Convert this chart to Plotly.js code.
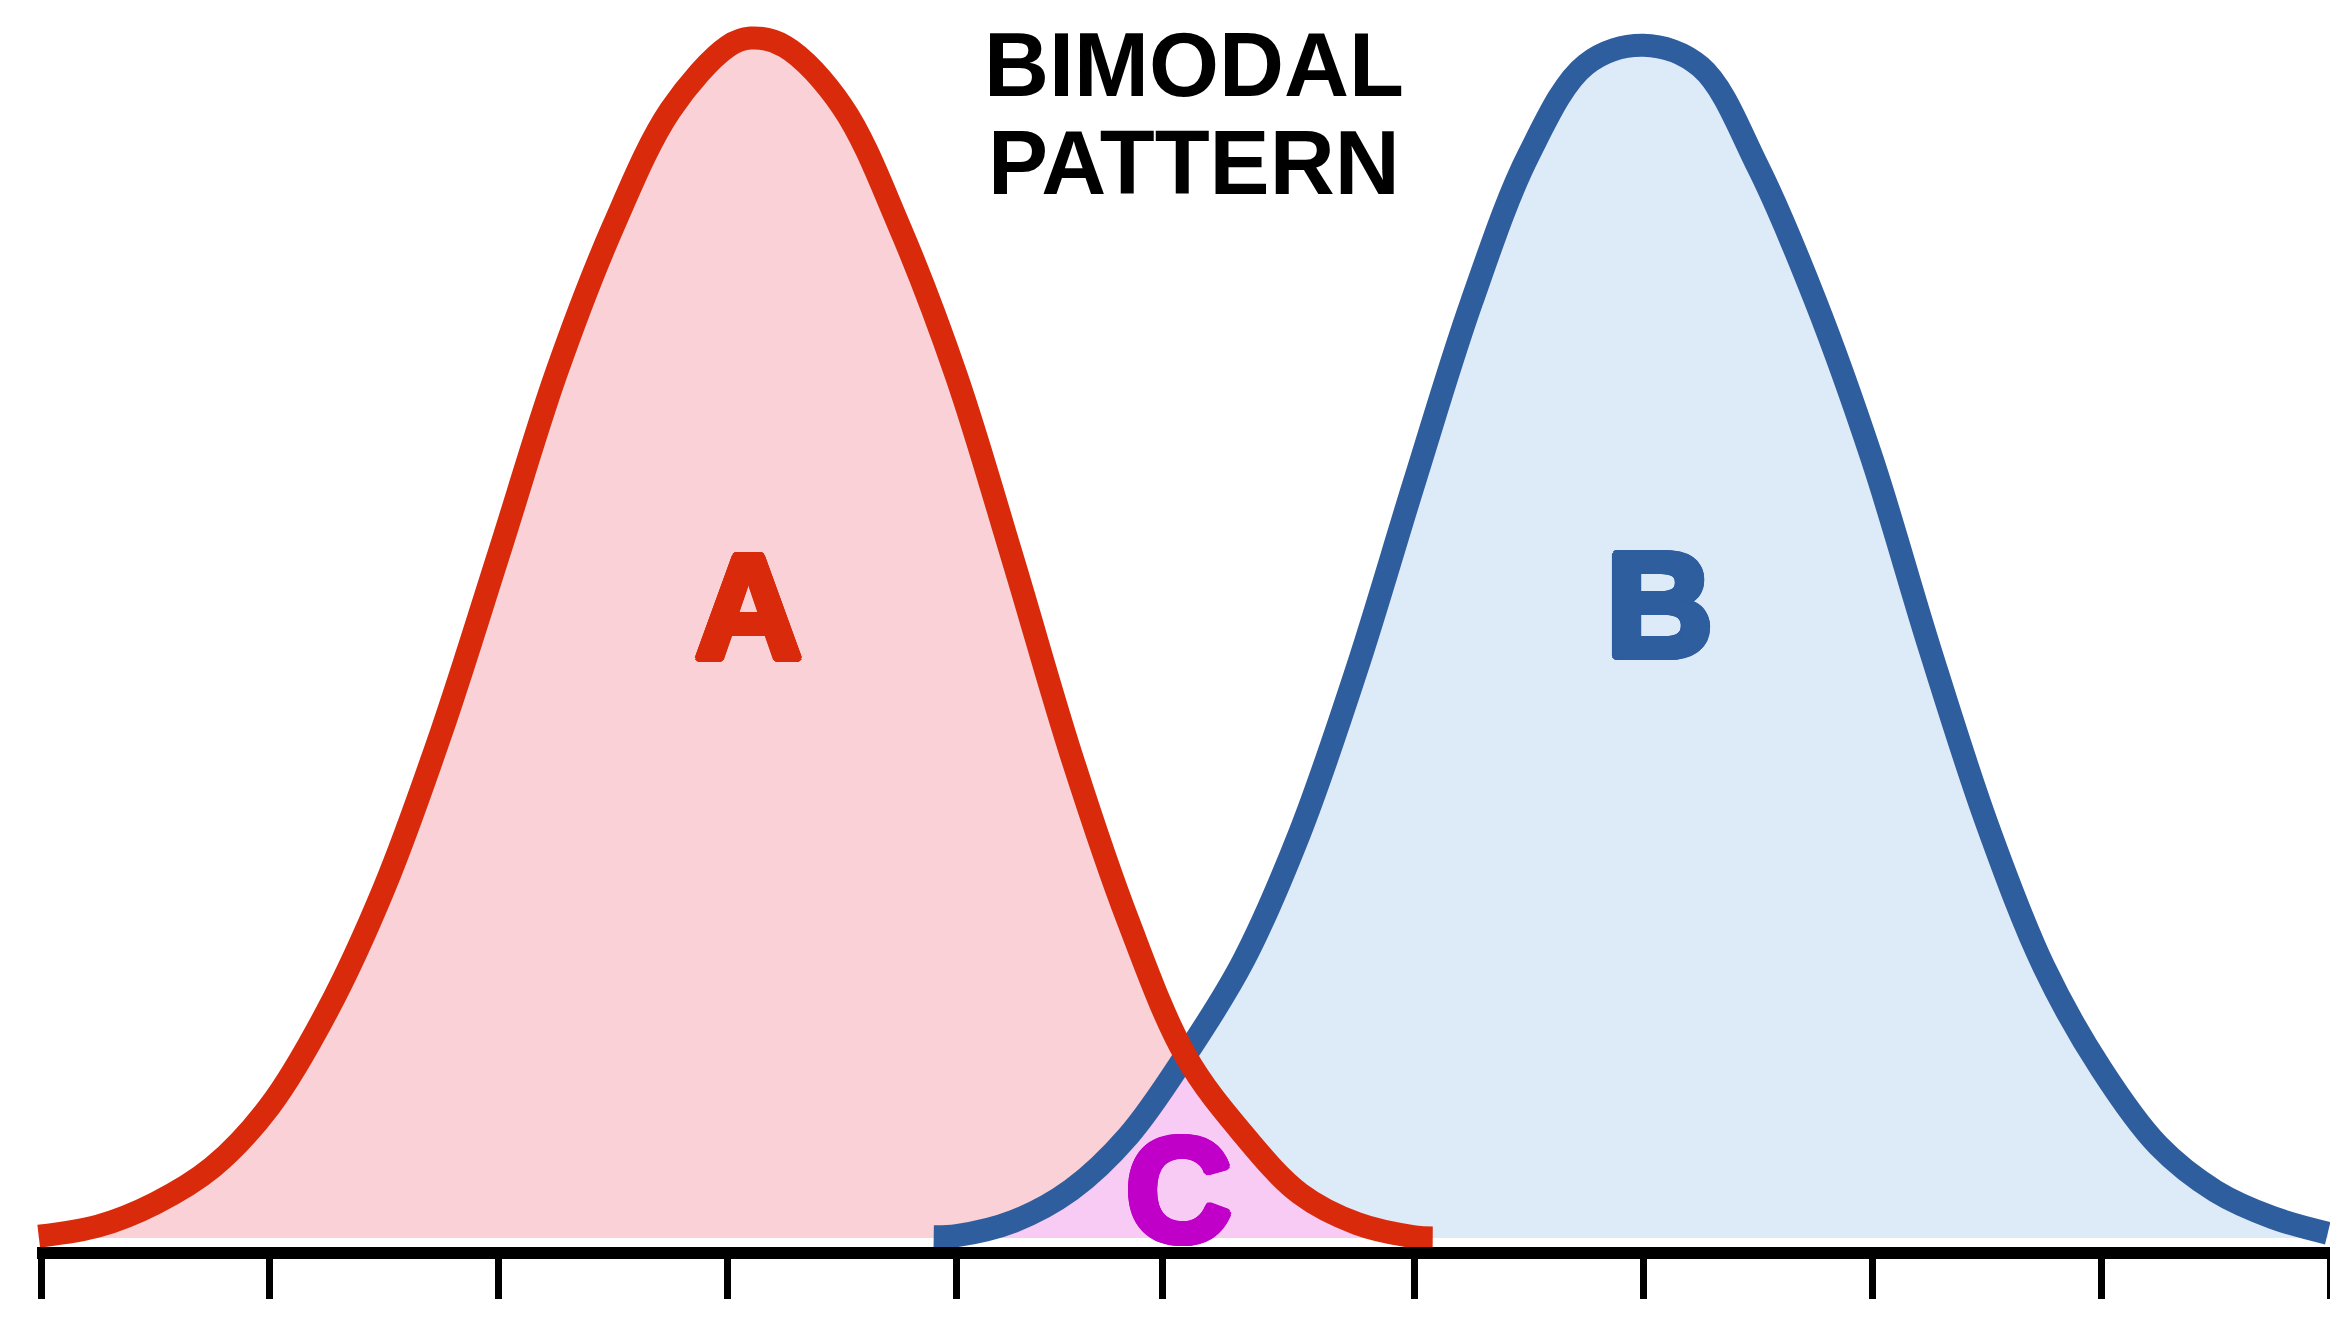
<!DOCTYPE html>
<html>
<head>
<meta charset="utf-8">
<script src="https://cdn.plot.ly/plotly-3.0.1.min.js"></script>
<style>html,body{margin:0;padding:0;background:#fff;}#chart{width:2330px;height:1325px;}</style>
</head>
<body>
<div id="chart"></div>
<script>
// Distribution A (red) — x in tick units, y as relative height (peak = 100)
const redX = [-0.01, 0.25, 0.5, 0.75, 1.0, 1.25, 1.5, 1.75, 2.0, 2.25, 2.5, 2.75, 3.0, 3.1, 3.25, 3.5, 3.75, 4.0, 4.25, 4.5, 4.75, 5.0, 5.25, 5.5, 5.75, 6.0, 6.08];
const redY = [0.15, 1.0, 2.9, 5.9, 11.0, 18.9, 29.2, 42.2, 57.0, 72.0, 84.3, 94.0, 99.3, 100, 99.3, 94.3, 84.3, 71.8, 56.3, 40.3, 26.4, 15.2, 8.7, 3.7, 1.2, 0.1, 0];

// Distribution B (blue)
const blueX = [3.9, 4.0, 4.25, 4.5, 4.75, 5.0, 5.25, 5.5, 5.75, 6.0, 6.25, 6.5, 6.75, 7.0, 7.25, 7.5, 7.75, 8.0, 8.25, 8.5, 8.75, 9.0, 9.25, 9.5, 9.75, 9.99];
const blueY = [0.1, 0.2, 1.4, 4.0, 8.5, 15.2, 23.0, 33.8, 47.5, 63.0, 78.0, 90.3, 97.8, 99.4, 97.6, 89.3, 78.2, 64.9, 49.2, 34.6, 22.6, 14.1, 7.7, 3.9, 1.7, 0.4];

// Crossing point of the two curves (x in tick units)
const crossX = 5.0;

// Axis tick positions (no labels)
const tickVals = [0, 1, 2, 3, 4, 4.9, 6, 7, 8, 9, 10];

// Text labels
const titleLines = ["BIMODAL", "PATTERN"];
const labelA = "A", labelB = "B", labelC = "C";

// Overlap region C built from the two series
const ovX = [], ovY = [];
blueX.forEach((x, i) => { if (x <= crossX) { ovX.push(x); ovY.push(blueY[i]); } });
redX.forEach((x, i) => { if (x > crossX) { ovX.push(x); ovY.push(redY[i]); } });

const RED = "#d92b0b", BLUE = "#2f5e9f", MAG = "#c000c8";
const FONT = "Liberation Sans, Arial, Helvetica, sans-serif";
const LW = 23;

function heavy(c, d) {
  const o = [];
  for (let a = 0; a < 16; a++) {
    const t = a * Math.PI / 8;
    o.push((d * Math.cos(t)).toFixed(1) + "px " + (d * Math.sin(t)).toFixed(1) + "px 0 " + c);
  }
  return o.join(", ");
}

const traces = [
  {x: redX, y: redY, type: "scatter", mode: "lines", fill: "tozeroy", fillcolor: "#f9d1d6",
   line: {width: 0, shape: "spline", color: "rgba(0,0,0,0)"}, hoverinfo: "skip"},
  {x: blueX, y: blueY, type: "scatter", mode: "lines", fill: "tozeroy", fillcolor: "#ddeaf8",
   line: {width: 0, shape: "spline", color: "rgba(0,0,0,0)"}, hoverinfo: "skip"},
  {x: ovX, y: ovY, type: "scatter", mode: "lines", fill: "tozeroy", fillcolor: "#f7cbf3",
   line: {width: 0, shape: "spline", color: "rgba(0,0,0,0)"}, hoverinfo: "skip"},
  {x: blueX, y: blueY, type: "scatter", mode: "lines", line: {width: LW, shape: "spline", color: BLUE}},
  {x: redX, y: redY, type: "scatter", mode: "lines", line: {width: LW, shape: "spline", color: RED}}
];

const layout = {
  width: 2330, height: 1325,
  margin: {l: 37, r: 0, t: 0, b: 78, pad: 0},
  paper_bgcolor: "#ffffff", plot_bgcolor: "#ffffff",
  showlegend: false,
  xaxis: {
    range: [-0.0175, 10.0], showgrid: false, zeroline: false,
    showline: true, linecolor: "#000000", linewidth: 12,
    ticks: "outside", tickvals: tickVals, ticklen: 40, tickwidth: 7, tickcolor: "#000000",
    showticklabels: false, fixedrange: true
  },
  yaxis: {range: [-0.75, 103.17], visible: false, fixedrange: true},
  annotations: [
    {text: titleLines[0], xref: "paper", yref: "paper", x: 0.5045, y: 0.9479, xanchor: "center", yanchor: "middle",
     showarrow: false, font: {family: FONT, size: 90, color: "#000000", weight: "bold"}},
    {text: titleLines[1], xref: "paper", yref: "paper", x: 0.5045, y: 0.8689, xanchor: "center", yanchor: "middle",
     showarrow: false, font: {family: FONT, size: 90, color: "#000000", weight: "bold"}},
    {text: labelA, xref: "x", yref: "y", x: 3.093, y: 52.6, xanchor: "center", yanchor: "middle",
     showarrow: false, font: {family: FONT, size: 148, color: RED, weight: "bold", shadow: heavy(RED, 4)}},
    {text: labelB, xref: "x", yref: "y", x: 7.07, y: 52.8, xanchor: "center", yanchor: "middle",
     showarrow: false, font: {family: FONT, size: 148, color: BLUE, weight: "bold", shadow: heavy(BLUE, 4)}},
    {text: labelC, xref: "x", yref: "y", x: 4.97, y: 4.0, xanchor: "center", yanchor: "middle",
     showarrow: false, font: {family: FONT, size: 146, color: MAG, weight: "bold", shadow: heavy(MAG, 4)}}
  ]
};

Plotly.newPlot("chart", traces, layout, {staticPlot: true, displayModeBar: false});
</script>
</body>
</html>
